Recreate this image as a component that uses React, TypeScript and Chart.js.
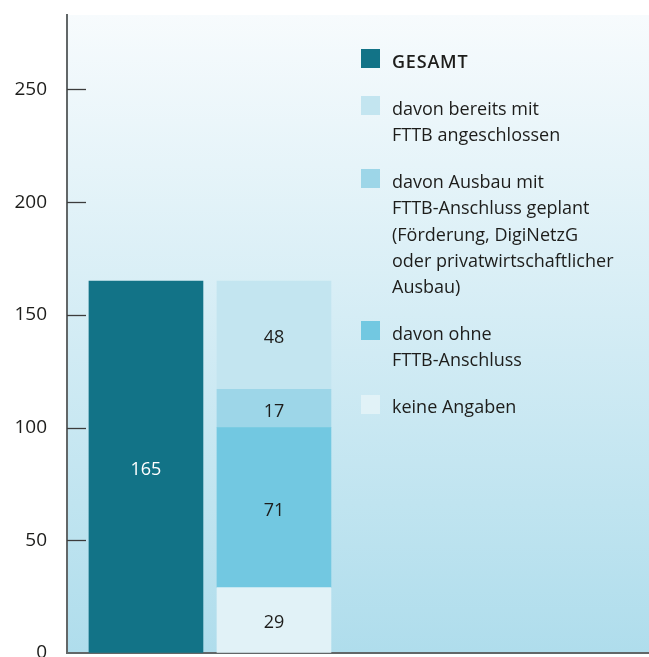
import React, { useEffect, useRef } from 'react';
import { Chart, registerables } from 'chart.js';

Chart.register(...registerables);

// ---- Data ----
const categories = ['GESAMT', 'Aufteilung'];
const gesamtValues = [165, null];
const keineAngabenValues = [null, 29];
const ohneAnschlussValues = [null, 71];
const ausbauGeplantValues = [null, 17];
const bereitsAngeschlossenValues = [null, 48];
const yTickValues = [0, 50, 100, 150, 200, 250];
const yMax = 283;

const colorGesamt = '#127387';
const colorBereits = '#c3e5f0';
const colorAusbau = '#9dd6e8';
const colorOhne = '#72c8e1';
const colorKeine = '#e1f2f7';

const legendItems = [
  { color: colorGesamt, lines: ['GESAMT'], bold: true },
  { color: colorBereits, lines: ['davon bereits mit', 'FTTB angeschlossen'], bold: false },
  {
    color: colorAusbau,
    lines: ['davon Ausbau mit', 'FTTB-Anschluss geplant', '(Förderung, DigiNetzG', 'oder privatwirtschaftlicher', 'Ausbau)'],
    bold: false,
  },
  { color: colorOhne, lines: ['davon ohne', 'FTTB-Anschluss'], bold: false },
  { color: colorKeine, lines: ['keine Angaben'], bold: false },
];

const FONT = '"Open Sans", "Noto Sans", sans-serif';
const TEXT = '#1d1d1b';

const toPoints = (arr: (number | null)[]) =>
  arr.map((v, i) => (v === null ? null : { x: i, y: v })).filter((p) => p !== null) as { x: number; y: number }[];

const backgroundPlugin = {
  id: 'bgGradient',
  beforeDraw(chart: any) {
    const { ctx, chartArea } = chart;
    if (!chartArea) return;
    const g = ctx.createLinearGradient(0, chartArea.top, 0, chartArea.bottom);
    g.addColorStop(0, '#f7fbfd');
    g.addColorStop(1, '#afddec');
    ctx.save();
    ctx.fillStyle = g;
    ctx.fillRect(chartArea.left, chartArea.top, chartArea.right - chartArea.left, chartArea.bottom - chartArea.top);
    ctx.restore();
  },
};

const innerTicksPlugin = {
  id: 'innerTicks',
  afterDraw(chart: any) {
    const { ctx, chartArea, scales } = chart;
    ctx.save();
    ctx.strokeStyle = '#3c3c3c';
    ctx.lineWidth = 1.3;
    yTickValues.forEach((v) => {
      if (v === 0) return;
      const y = Math.round(scales.y.getPixelForValue(v)) + 0.5;
      ctx.beginPath();
      ctx.moveTo(chartArea.left, y);
      ctx.lineTo(chartArea.left + 19, y);
      ctx.stroke();
    });
    ctx.restore();
  },
};

const barLabelPlugin = {
  id: 'barLabels',
  afterDatasetsDraw(chart: any) {
    const { ctx } = chart;
    ctx.save();
    ctx.font = `500 18px ${FONT}`;
    ctx.textAlign = 'center';
    ctx.textBaseline = 'middle';
    chart.data.datasets.forEach((ds: any, di: number) => {
      const meta = chart.getDatasetMeta(di);
      meta.data.forEach((el: any, i: number) => {
        const p = ds.data[i];
        if (!p) return;
        const { x, y, base } = el.getProps(['x', 'y', 'base'], true);
        ctx.fillStyle = ds.labelColor;
        ctx.fillText(String(p.y), x, (y + base) / 2 + 3);
      });
    });
    ctx.restore();
  },
};

export default function App() {
  const canvasRef = useRef<HTMLCanvasElement | null>(null);

  useEffect(() => {
    if (!canvasRef.current) return;
    const chart = new Chart(canvasRef.current, {
      type: 'bar',
      data: {
        datasets: [
          { label: categories[0], data: toPoints(gesamtValues), backgroundColor: colorGesamt, labelColor: '#ffffff' } as any,
          { label: 'keine Angaben', data: toPoints(keineAngabenValues), backgroundColor: colorKeine, labelColor: TEXT } as any,
          { label: 'davon ohne FTTB-Anschluss', data: toPoints(ohneAnschlussValues), backgroundColor: colorOhne, labelColor: TEXT } as any,
          { label: 'davon Ausbau mit FTTB-Anschluss geplant', data: toPoints(ausbauGeplantValues), backgroundColor: colorAusbau, labelColor: TEXT } as any,
          { label: 'davon bereits mit FTTB angeschlossen', data: toPoints(bereitsAngeschlossenValues), backgroundColor: colorBereits, labelColor: TEXT } as any,
        ],
      },
      options: {
        responsive: false,
        animation: false,
        layout: { padding: { top: 15, bottom: 4, left: 0, right: 0 } },
        datasets: { bar: { barThickness: 114, borderWidth: 0 } },
        plugins: { legend: { display: false }, tooltip: { enabled: false } },
        scales: {
          x: {
            type: 'linear',
            stacked: true,
            offset: false,
            min: -0.617,
            max: 3.93,
            ticks: { display: false },
            grid: { display: true, drawOnChartArea: false, drawTicks: false, offset: false },
            border: { display: true, color: '#626768', width: 2 },
            afterFit: (s: any) => {
              s.height = 0;
              s.paddingLeft = 0;
              s.paddingRight = 0;
            },
          },
          y: {
            type: 'linear',
            stacked: true,
            min: 0,
            max: yMax,
            afterBuildTicks: (s: any) => {
              s.ticks = yTickValues.map((v) => ({ value: v }));
            },
            ticks: {
              color: TEXT,
              font: { family: FONT, size: 19 },
              padding: 20,
            },
            grid: { display: true, drawOnChartArea: false, drawTicks: false },
            border: { display: true, color: '#626768', width: 2 },
            afterFit: (s: any) => {
              s.width = 67;
              s.paddingTop = 0;
              s.paddingBottom = 0;
            },
          },
        },
      } as any,
      plugins: [backgroundPlugin, innerTicksPlugin, barLabelPlugin],
    });
    return () => chart.destroy();
  }, []);

  return (
    <div style={{ position: 'fixed', left: 0, top: 0, width: 649, height: 657, overflow: 'hidden', background: '#ffffff' }}>
      <canvas ref={canvasRef} width={649} height={657} style={{ display: 'block' }} />
      <div
        style={{
          position: 'absolute',
          left: 361,
          top: 48,
          fontFamily: FONT,
          fontSize: 18,
          lineHeight: '26.3px',
          color: TEXT,
        }}
      >
        {legendItems.map((item, i) => (
          <div key={i} style={{ display: 'flex', alignItems: 'flex-start', marginBottom: 20.6 }}>
            <div style={{ width: 19, height: 19, background: item.color, marginTop: 1.3, flex: '0 0 19px' }} />
            <div
              style={{
                marginLeft: 12,
                fontWeight: item.bold ? 600 : 400,
                letterSpacing: item.bold ? '0.8px' : 'normal',
                whiteSpace: 'nowrap',
              }}
            >
              {item.lines.map((l, j) => (
                <div key={j}>{l}</div>
              ))}
            </div>
          </div>
        ))}
      </div>
    </div>
  );
}
